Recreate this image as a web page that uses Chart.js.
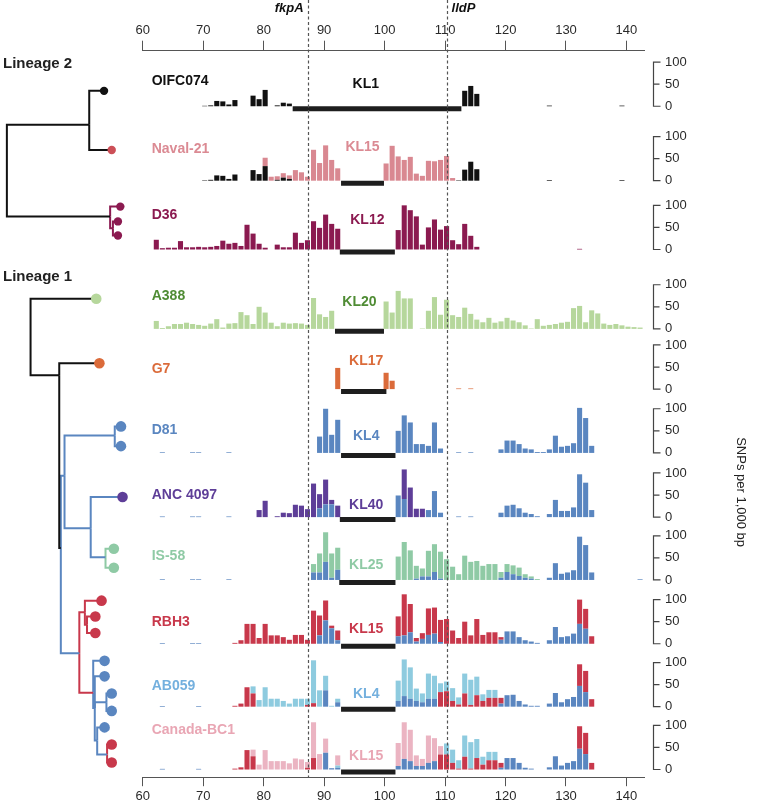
<!DOCTYPE html>
<html>
<head>
<meta charset="utf-8">
<script src="https://cdn.jsdelivr.net/npm/chart.js@4.4.1/dist/chart.umd.min.js"></script>
<style>
  body { margin: 0; background: #fff; }
  #wrap { position: relative; width: 757px; height: 806px; }
  #wrap canvas { position: absolute; top: 0; left: 0; }
</style>
</head>
<body>
<div id="wrap">
  <canvas id="snp_chart" width="757" height="806"></canvas>
  <canvas id="tree_chart" width="142" height="806"></canvas>
</div>
<script>
// ---------- data ----------
const strains = ['OIFC074', 'Naval-21', 'D36', 'A388', 'G7', 'D81', 'ANC 4097', 'IS-58', 'RBH3', 'AB059', 'Canada-BC1'];
const klTypes = ['KL1', 'KL15', 'KL12', 'KL20', 'KL17', 'KL4', 'KL40', 'KL25', 'KL15', 'KL4', 'KL15'];
const klStart = [84.8, 92.8, 92.6, 91.8, 92.8, 92.8, 92.6, 92.5, 92.8, 92.8, 92.8];
const klEnd = [112.7, 99.9, 101.7, 99.9, 100.3, 101.8, 101.8, 101.8, 101.8, 101.8, 101.8];
const markerGenes = ['fkpA', 'lldP'];
const markerKb = [87.27, 110.25];
const kbTicks = [60, 70, 80, 90, 100, 110, 120, 130, 140];
const snpTicks = [0, 50, 100];
const firstBinKb = 61.75; // 1 kb windows

// SNPs per 1,000 bp, one value per window
const oifcBlack = [
  0, 0, 0, 0, 0, 0, 0, 0, 1, 2, 12, 11, 4, 14, 0, 0, 24, 16, 37, 0,
  2, 8, 6, 0, 0, 0, 0, 0, 0, 0, 0, 0, 0, 0, 0, 0, 0, 0, 0, 0,
  0, 0, 0, 0, 0, 0, 0, 0, 0, 0, 0, 35, 46, 28, 0, 0, 0, 0, 0, 0,
  0, 0, 0, 0, 0, 1.5, 0, 0, 0, 0, 0, 0, 0, 0, 0, 0, 0, 1.5, 0, 0,
  0];
const navalBlack = [
  0, 0, 0, 0, 0, 0, 0, 0, 1, 2, 12, 11, 4, 14, 0, 0, 24, 15, 33, 0,
  2, 7, 4, 0, 0, 0, 0, 0, 0, 0, 0, 0, 0, 0, 0, 0, 0, 0, 0, 0,
  0, 0, 0, 0, 0, 0, 0, 0, 0, 0, 1, 25, 43, 26, 0, 0, 0, 0, 0, 0,
  0, 0, 0, 0, 0, 1.5, 0, 0, 0, 0, 0, 0, 0, 0, 0, 0, 0, 1.5, 0, 0,
  0];
const navalPink = [
  0, 0, 0, 0, 0, 0, 0, 0, 0, 0, 0, 0, 0, 0, 0, 0, 0, 0, 19, 9,
  8, 10, 8, 24, 19, 9, 70, 40, 80, 47, 28, 0, 0, 0, 0, 0, 0, 0, 39, 79,
  55, 47, 54, 16, 11, 45, 44, 47, 56, 6, 0, 0, 0, 0, 0, 0, 0, 0, 0, 0,
  0, 0, 0, 0, 0, 0, 0, 0, 0, 0, 0, 0, 0, 0, 0, 0, 0, 0, 0, 0,
  0];
const d36Maroon = [
  22, 3, 4, 4, 19, 5, 5, 6, 5, 6, 8, 20, 13, 15, 8, 56, 36, 13, 4, 0,
  11, 5, 5, 38, 15, 21, 64, 49, 79, 58, 47, 0, 0, 0, 0, 0, 0, 0, 0, 0,
  44, 100, 89, 75, 11, 50, 68, 45, 53, 21, 12, 58, 31, 6, 0, 0, 0, 0, 0, 0,
  0, 0, 0, 0, 0, 0, 0, 0, 0, 0, 1.5, 0, 0, 0, 0, 0, 0, 0, 0, 0,
  0];
const a388Green = [
  18, 2, 6, 11, 11, 14, 11, 9, 7, 12, 22, 3, 12, 13, 38, 31, 11, 50, 37, 14,
  6, 14, 12, 13, 12, 9, 70, 33, 27, 41, 0, 0, 0, 0, 0, 0, 0, 0, 62, 37,
  86, 69, 69, 0, 1, 41, 72, 32, 66, 31, 27, 48, 34, 21, 15, 25, 14, 17, 25, 19,
  15, 8, 1, 22, 7, 9, 11, 14, 16, 47, 52, 15, 42, 35, 12, 9, 11, 8, 5, 4,
  3];
const g7Orange = [
  0, 0, 0, 0, 0, 0, 0, 0, 0, 0, 0, 0, 0, 0, 0, 0, 0, 0, 0, 0,
  0, 0, 0, 0, 0, 0, 0, 0, 0, 0, 48, 0, 0, 0, 0, 0, 0, 0, 37, 19,
  0, 0, 0, 0, 0, 0, 0, 0, 0, 0, 1.5, 0, 1.5, 0, 0, 0, 0, 0, 0, 0,
  0, 0, 0, 0, 0, 0, 0, 0, 0, 0, 0, 0, 0, 0, 0, 0, 0, 0, 0, 0,
  0];
const d81Blue = [
  0, 1.5, 0, 0, 0, 0, 1.5, 1.5, 0, 0, 0, 0, 1.5, 0, 0, 0, 0, 0, 0, 0,
  0, 0, 0, 0, 0, 0, 0, 37, 100, 41, 75, 0, 0, 0, 0, 0, 0, 0, 0, 0,
  50, 85, 69, 20, 20, 16, 69, 10, 0, 0, 1.5, 0, 1.5, 0, 0, 0, 0, 8, 28, 28,
  20, 10, 8, 2, 2, 8, 39, 14, 16, 22, 102, 79, 16, 0, 0, 0, 0, 0, 0, 0,
  0];
const ancBlue = [
  0, 1.5, 0, 0, 0, 0, 1.5, 1.5, 0, 0, 0, 0, 1.5, 0, 0, 0, 0, 0, 0, 0,
  0, 0, 0, 0, 0, 0, 0, 20, 29, 29, 0, 0, 0, 0, 0, 0, 0, 0, 0, 0,
  49, 41, 0, 0, 0, 16, 59, 10, 0, 0, 1.5, 0, 1.5, 0, 0, 0, 0, 10, 26, 28,
  20, 10, 7, 2, 0, 7, 39, 14, 14, 22, 97, 78, 16, 0, 0, 0, 0, 0, 0, 0,
  0];
const ancPurple = [
  0, 0, 0, 0, 0, 0, 0, 0, 0, 0, 0, 0, 0, 0, 0, 0, 0, 16, 37, 0,
  2, 10, 9, 28, 26, 18, 76, 32, 56, 10, 26, 0, 0, 0, 0, 0, 0, 0, 0, 0,
  0, 67, 67, 19, 19, 0, 0, 0, 0, 0, 0, 0, 0, 0, 0, 0, 0, 0, 0, 0,
  0, 0, 0, 0, 0, 0, 0, 0, 0, 0, 0, 0, 0, 0, 0, 0, 0, 0, 0, 0,
  0];
const is58Blue = [
  0, 1.5, 0, 0, 0, 0, 1.5, 1.5, 0, 0, 0, 0, 1.5, 0, 0, 0, 0, 0, 0, 0,
  0, 0, 0, 0, 0, 0, 17, 17, 41, 5, 23, 0, 0, 0, 0, 0, 0, 0, 0, 0,
  0, 0, 0, 3, 8, 8, 18, 3, 0, 0, 0, 0, 0, 0, 0, 0, 0, 5, 18, 13,
  9, 5, 3, 0, 0, 5, 38, 14, 17, 22, 98, 79, 17, 0, 0, 0, 0, 0, 0, 0,
  1.5];
const is58Teal = [
  0, 0, 0, 0, 0, 0, 0, 0, 0, 0, 0, 0, 0, 0, 0, 0, 0, 0, 0, 0,
  0, 0, 0, 0, 0, 0, 19, 43, 67, 55, 50, 0, 0, 0, 0, 0, 0, 0, 0, 0,
  53, 86, 67, 29, 18, 58, 63, 61, 47, 30, 13, 55, 41, 43, 32, 36, 36, 13, 18, 20,
  19, 8, 5, 2, 0, 0, 0, 0, 0, 0, 0, 0, 0, 0, 0, 0, 0, 0, 0, 0,
  0];
const rbhBlue = [
  0, 1.5, 0, 0, 0, 0, 1.5, 1.5, 0, 0, 0, 0, 0, 0, 0, 0, 0, 0, 0, 0,
  0, 0, 0, 0, 0, 0, 0, 19, 53, 35, 8, 0, 0, 0, 0, 0, 0, 0, 0, 0,
  17, 19, 26, 5, 11, 20, 23, 4, 0, 0, 0, 0, 0, 0, 0, 0, 0, 9, 28, 28,
  15, 8, 5, 2, 0, 8, 38, 15, 17, 23, 45, 34, 0, 0, 0, 0, 0, 0, 0, 0,
  0];
const rbhRed = [
  0, 0, 0, 0, 0, 0, 0, 0, 0, 0, 0, 0, 0, 2, 8, 45, 45, 13, 45, 19,
  19, 15, 9, 20, 20, 9, 75, 45, 45, 6, 22, 0, 0, 0, 0, 0, 0, 0, 0, 0,
  45, 93, 64, 8, 13, 60, 59, 50, 56, 30, 13, 50, 19, 56, 20, 26, 26, 6, 0, 0,
  0, 0, 0, 0, 0, 0, 0, 0, 0, 0, 55, 45, 17, 0, 0, 0, 0, 0, 0, 0,
  0];
const abBlue = [
  0, 1.5, 0, 0, 0, 0, 0, 1.5, 0, 0, 0, 0, 0, 0, 0, 0, 0, 0, 0, 0,
  0, 0, 0, 0, 0, 0, 0, 0, 37, 0, 10, 0, 0, 0, 0, 0, 0, 0, 0, 0,
  13, 24, 18, 13, 10, 18, 18, 0, 0, 0, 0, 0, 0, 0, 0, 0, 0, 7, 26, 27,
  13, 5, 2, 2, 0, 7, 31, 10, 17, 22, 47, 33, 0, 0, 0, 0, 0, 0, 0, 0,
  0];
const abRed = [
  0, 0, 0, 0, 0, 0, 0, 0, 0, 0, 0, 0, 0, 2, 7, 44, 30, 0, 0, 0,
  0, 0, 0, 0, 0, 4, 8, 0, 0, 0, 0, 0, 0, 0, 0, 0, 0, 0, 0, 0,
  0, 0, 0, 0, 0, 0, 0, 33, 35, 13, 5, 30, 4, 26, 13, 20, 20, 13, 0, 0,
  0, 0, 0, 0, 0, 0, 0, 0, 0, 0, 49, 48, 17, 0, 0, 0, 0, 0, 0, 0,
  0];
const abLight = [
  0, 0, 0, 0, 0, 0, 0, 0, 0, 0, 0, 0, 0, 0, 0, 0, 16, 15, 44, 18,
  18, 13, 7, 18, 18, 14, 97, 37, 33, 2, 8, 0, 0, 0, 0, 0, 0, 0, 0, 0,
  46, 83, 71, 28, 20, 57, 52, 20, 22, 29, 16, 45, 57, 42, 15, 18, 18, 0, 0, 0,
  0, 0, 0, 0, 0, 0, 0, 0, 0, 0, 0, 0, 0, 0, 0, 0, 0, 0, 0, 0,
  0];
const canBlue = [
  0, 1.5, 0, 0, 0, 0, 0, 1.5, 0, 0, 0, 0, 0, 0, 0, 0, 0, 0, 0, 0,
  0, 0, 0, 0, 0, 0, 0, 0, 38, 3, 4, 0, 0, 0, 0, 0, 0, 0, 0, 0,
  8, 24, 19, 8, 8, 15, 19, 0, 0, 0, 0, 0, 0, 0, 0, 0, 0, 4, 26, 26,
  15, 4, 2, 0, 0, 5, 30, 9, 15, 19, 47, 35, 0, 0, 0, 0, 0, 0, 0, 0,
  0];
const canRed = [
  0, 0, 0, 0, 0, 0, 0, 0, 0, 0, 0, 0, 0, 2, 5, 44, 30, 0, 0, 0,
  0, 0, 0, 0, 0, 4, 26, 0, 0, 0, 0, 0, 0, 0, 0, 0, 0, 0, 0, 0,
  0, 0, 0, 0, 0, 0, 0, 34, 34, 15, 2, 29, 2, 26, 11, 21, 21, 11, 0, 0,
  0, 0, 0, 0, 0, 0, 0, 0, 0, 0, 51, 48, 15, 0, 0, 0, 0, 0, 0, 0,
  0];
const canLight = [
  0, 0, 0, 0, 0, 0, 0, 0, 0, 0, 0, 0, 0, 0, 0, 0, 0, 0, 0, 0,
  0, 0, 0, 0, 0, 0, 0, 0, 0, 0, 5, 0, 0, 0, 0, 0, 0, 0, 0, 0,
  0, 0, 0, 0, 0, 0, 0, 0, 25, 30, 19, 48, 60, 43, 18, 19, 19, 0, 0, 0,
  0, 0, 0, 0, 0, 0, 0, 0, 0, 0, 0, 0, 0, 0, 0, 0, 0, 0, 0, 0,
  0];
const canPink = [
  0, 0, 0, 0, 0, 0, 0, 0, 0, 0, 0, 0, 0, 0, 0, 0, 15, 11, 44, 19,
  19, 19, 14, 25, 23, 13, 81, 35, 32, 0, 23, 0, 0, 0, 0, 0, 0, 0, 0, 0,
  52, 83, 71, 24, 16, 62, 52, 19, 0, 0, 0, 0, 0, 0, 0, 0, 0, 0, 0, 0,
  0, 0, 0, 0, 0, 0, 0, 0, 0, 0, 0, 0, 0, 0, 0, 0, 0, 0, 0, 0,
  0];

// tree: name, parent, depth, y, edge colour, tip colour
const treeNodes = [
  ['L2', null, 1.7, 167, null, null],
  ['a', 'L2', 90.7, 121, 'black', null],
  ['OIFC074', 'a', 106.7, 86.7, 'black', 'black'],
  ['Naval-21', 'a', 115, 146.7, 'black', 'navalDot'],
  ['b', 'L2', 113.3, 214, 'black', null],
  ['D36a', 'b', 124.3, 204, 'd36', 'd36'],
  ['b2', 'b', 116.3, 226, 'd36', null],
  ['D36b', 'b2', 121.7, 219, 'd36', 'd36'],
  ['D36c', 'b2', 121.7, 233.3, 'd36', 'd36'],
  ['L1', null, 27.3, 336, null, null],
  ['A388', 'L1', 98.3, 297.3, 'black', 'a388'],
  ['c', 'L1', 58.3, 375, 'black', null],
  ['G7', 'c', 101.7, 362.7, 'black', 'g7'],
  ['d', 'c', 60, 550, 'black', null],
  ['e', 'd', 64, 476.7, 'blue', null],
  ['f', 'e', 118.3, 436, 'blue', null],
  ['D81a', 'f', 125, 426.7, 'blue', 'blue'],
  ['D81b', 'f', 125, 446.7, 'blue', 'blue'],
  ['g', 'e', 92.3, 530, 'blue', null],
  ['ANC 4097', 'g', 126.7, 498.3, 'blue', 'purple'],
  ['h', 'g', 108.3, 559.3, 'blue', null],
  ['IS-58a', 'h', 117.3, 550.7, 'teal', 'teal'],
  ['IS-58b', 'h', 117.3, 570, 'teal', 'teal'],
  ['i', 'd', 80, 656.7, 'blue', null],
  ['j', 'i', 86, 615, 'red', null],
  ['RBH3a', 'j', 104, 603.3, 'red', 'red'],
  ['k', 'j', 88.3, 627.7, 'red', null],
  ['RBH3b', 'k', 97.3, 619.3, 'red', 'red'],
  ['RBH3c', 'k', 97.3, 636, 'red', 'red'],
  ['l', 'i', 95, 696.7, 'red', null],
  ['AB059a', 'l', 107.3, 664.3, 'blue', 'blue'],
  ['m', 'l', 96.7, 712, 'blue', null],
  ['AB059b', 'm', 107.3, 680, 'blue', 'blue'],
  ['n', 'm', 109.3, 706.3, 'blue', null],
  ['AB059c', 'n', 115, 697.3, 'blue', 'blue'],
  ['AB059d', 'n', 115, 715, 'blue', 'blue'],
  ['o', 'm', 99.3, 745, 'blue', null],
  ['AB059e', 'o', 107.3, 731.7, 'blue', 'blue'],
  ['p', 'o', 110, 759.3, 'blue', null],
  ['Canada-BC1a', 'p', 115, 749, 'red', 'red'],
  ['Canada-BC1b', 'p', 115, 767.3, 'red', 'red']
];

// ---------- style / layout ----------
const FONT = '"Liberation Sans", Arial, Helvetica, sans-serif';
Chart.defaults.font.family = FONT;
Chart.defaults.color = '#222';

const ink = {
  black: '#111111', naval: '#d98891', navalDot: '#cc4f57', d36: '#8b1a50',
  a388: '#b6d79c', g7: '#db6b3a', blue: '#5a86c0', purple: '#5e3e98',
  teal: '#8fcaa5', red: '#c8384b', light: '#8ecbdf', pink: '#ebb4c2'
};
const nameInk = ['#111111', '#db8a93', '#8b1a50', '#4f8c34', '#db6b3a', '#5a86c0',
  '#5e3e98', '#8fcaa5', '#c8384b', '#74b0de', '#e9a6b4'];

const layers = [
  [0, oifcBlack, ink.black],
  [1, navalBlack, ink.black], [1, navalPink, ink.naval],
  [2, d36Maroon, ink.d36],
  [3, a388Green, ink.a388],
  [4, g7Orange, ink.g7],
  [5, d81Blue, ink.blue],
  [6, ancBlue, ink.blue], [6, ancPurple, ink.purple],
  [7, is58Blue, ink.blue], [7, is58Teal, ink.teal],
  [8, rbhBlue, ink.blue], [8, rbhRed, ink.red],
  [9, abBlue, ink.blue], [9, abRed, ink.red], [9, abLight, ink.light],
  [10, canBlue, ink.blue], [10, canRed, ink.red], [10, canLight, ink.light], [10, canPink, ink.pink]
];

const rowMax = [125.8, 152.6, 139.8, 163.8, 120.4, 128.5, 129.4, 126.3, 128.5, 126.5, 126.3];
const rowMin = [-16, -16, -16, -16, -16, -16, -16, -16, -16, -16, -17.4];
const nameLift = [25, 32, 34, 32.5, 20, 22.5, 21.7, 23.5, 21.3, 20.7, 39];
const klLift = [21.7, 34, 29, 27, 27.7, 17, 11.7, 15, 15, 12.7, 13];
const klLabelKb = [96.9, 96.35, 97.15, 95.85, 96.96, 96.96, 96.96, 96.96, 96.96, 96.96, 96.96];
const LOCUS_Y = -5.6;

const binCentres = oifcBlack.map((_, i) => firstBinKb + 0.5 + i);
layers.forEach(l => { if (l[1].length !== 81) console.error('bad length', strains[l[0]], l[1].length); });

function snpLayer(layer) {
    const [row, values, colour] = layer;
    return {
        type: 'bar',
        label: strains[row],
        data: values.map((v, i) => ({ x: binCentres[i], y: v })),
        xAxisID: 'x',
        yAxisID: 'y' + row,
        backgroundColor: colour,
        borderWidth: 0,
        grouped: false,
        categoryPercentage: 1,
        barPercentage: 0.84,
        clip: false
    };
}

function locusLine(row) {
    return {
        type: 'line',
        label: klTypes[row],
        data: [{ x: klStart[row], y: LOCUS_Y }, { x: klEnd[row], y: LOCUS_Y }],
        xAxisID: 'x',
        yAxisID: 'y' + row,
        borderColor: '#1e1e1e',
        borderWidth: 5,
        borderCapStyle: 'butt',
        pointRadius: 0,
        clip: false
    };
}

function kbAxis(position, height, tickLength) {
    return {
        type: 'linear', position: position, min: 60, max: 142.9, offset: false,
        afterBuildTicks: s => { s.ticks = kbTicks.map(v => ({ value: v })); },
        afterFit: s => { s.height = height; },
        grid: { offset: false, drawOnChartArea: false, tickLength: tickLength, color: '#555', lineWidth: 1 },
        border: { color: '#555', width: 1 },
        ticks: { padding: 2, maxRotation: 0, autoSkip: false, color: '#2a2a2a', font: { size: 13 } }
    };
}

const overlay = {
    id: 'overlay',
    afterDatasetsDraw(chart) {
        const { ctx, chartArea, scales } = chart;
        const x = scales.x;
        ctx.save();

        // gene boundaries
        ctx.strokeStyle = '#555';
        ctx.lineWidth = 1.2;
        ctx.setLineDash([3, 2.5]);
        markerKb.forEach(kb => {
            const px = Math.round(x.getPixelForValue(kb)) + 0.5;
            ctx.beginPath();
            ctx.moveTo(px, 0);
            ctx.lineTo(px, chartArea.bottom);
            ctx.stroke();
        });
        ctx.setLineDash([]);
        ctx.fillStyle = '#111';
        ctx.font = 'italic bold 13px ' + FONT;
        ctx.textBaseline = 'middle';
        ctx.textAlign = 'right';
        ctx.fillText(markerGenes[0], x.getPixelForValue(markerKb[0]) - 4, 8);
        ctx.textAlign = 'left';
        ctx.fillText(markerGenes[1], x.getPixelForValue(markerKb[1]) + 5, 8);

        strains.forEach((name, k) => {
            const s = scales['y' + k];
            const y0 = s.getPixelForValue(0);
            const y50 = s.getPixelForValue(50);
            const y100 = s.getPixelForValue(100);
            const bx = Math.round(s.left + 9) + 0.5;

            // bracket axis
            ctx.strokeStyle = '#444';
            ctx.lineWidth = 1.2;
            ctx.beginPath();
            ctx.moveTo(bx + 7, y100);
            ctx.lineTo(bx, y100);
            ctx.lineTo(bx, y0);
            ctx.lineTo(bx + 7, y0);
            ctx.moveTo(bx, y50);
            ctx.lineTo(bx + 6, y50);
            ctx.stroke();

            ctx.font = 'bold 14px ' + FONT;
            ctx.fillStyle = nameInk[k];
            ctx.textAlign = 'left';
            ctx.fillText(name, chartArea.left + 9, y0 - nameLift[k]);
            ctx.textAlign = 'center';
            ctx.fillText(klTypes[k], x.getPixelForValue(klLabelKb[k]), y0 - klLift[k]);
        });
        ctx.restore();
    }
};

function createSnpChart() {
    const datasets = layers.map(snpLayer).concat(strains.map((_, k) => locusLine(k)));
    const scales = { x: kbAxis('bottom', 23.3, 9), x2: kbAxis('top', 50.7, 10) };
    strains.forEach((_, k) => {
        scales['y' + k] = {
            type: 'linear', position: 'right', stack: 'rows',
            stackWeight: rowMax[k] - rowMin[k], stacked: true,
            min: rowMin[k], max: rowMax[k],
            afterBuildTicks: s => { s.ticks = snpTicks.map(v => ({ value: v })); },
            afterFit: s => { s.width = 113; },
            grid: { display: false, drawTicks: false },
            border: { display: false },
            ticks: { padding: 21, autoSkip: false, maxRotation: 0, color: '#2a2a2a', font: { size: 13 } },
            title: {
                display: k === 6, text: 'SNPs per 1,000 bp', color: '#222',
                font: { size: 13 }, padding: { top: 9, bottom: 0 }
            }
        };
    });

    return new Chart(document.getElementById('snp_chart'), {
        type: 'bar',
        data: { datasets: datasets },
        options: {
            responsive: false,
            animation: false,
            layout: { padding: { left: 142.7, right: 0, top: 0, bottom: 0 } },
            scales: scales,
            plugins: { legend: { display: false }, tooltip: { enabled: false } }
        },
        plugins: [overlay]
    });
}

function createTreeChart() {
    const byName = {};
    treeNodes.forEach(n => { byName[n[0]] = n; });
    const rootOf = n => (n[1] ? rootOf(byName[n[1]]) : n[0]);

    const edges = treeNodes.filter(n => n[1]).map(n => {
        const p = byName[n[1]];
        return {
            type: 'scatter',
            showLine: true,
            data: [{ x: p[2], y: p[3] }, { x: p[2], y: n[3] }, { x: n[2], y: n[3] }],
            borderColor: ink[n[4]],
            borderWidth: 2,
            borderJoinStyle: 'miter',
            pointRadius: 0,
            clip: false
        };
    });
    const tips = treeNodes.filter(n => n[5]);
    const tipSet = {
        type: 'scatter',
        data: tips.map(n => ({ x: n[2], y: n[3] })),
        pointBackgroundColor: tips.map(n => ink[n[5]]),
        pointBorderWidth: 0,
        pointRadius: tips.map(n => (rootOf(n) === 'L2' ? 4.2 : 5.3)),
        clip: false
    };

    const lineageLabels = {
        id: 'lineageLabels',
        afterDraw(chart) {
            const { ctx } = chart;
            ctx.save();
            ctx.font = 'bold 15px ' + FONT;
            ctx.fillStyle = '#222';
            ctx.textBaseline = 'middle';
            ctx.fillText('Lineage 2', 3, 64);
            ctx.fillText('Lineage 1', 3, 277);
            ctx.restore();
        }
    };

    return new Chart(document.getElementById('tree_chart'), {
        type: 'scatter',
        data: { datasets: [tipSet].concat(edges) },
        options: {
            responsive: false,
            animation: false,
            layout: { padding: 0 },
            scales: {
                x: { type: 'linear', display: false, min: 0, max: 142 },
                y: { type: 'linear', display: false, min: 0, max: 806, reverse: true }
            },
            plugins: { legend: { display: false }, tooltip: { enabled: false } }
        },
        plugins: [lineageLabels]
    });
}

createSnpChart();
createTreeChart();
</script>
</body>
</html>
